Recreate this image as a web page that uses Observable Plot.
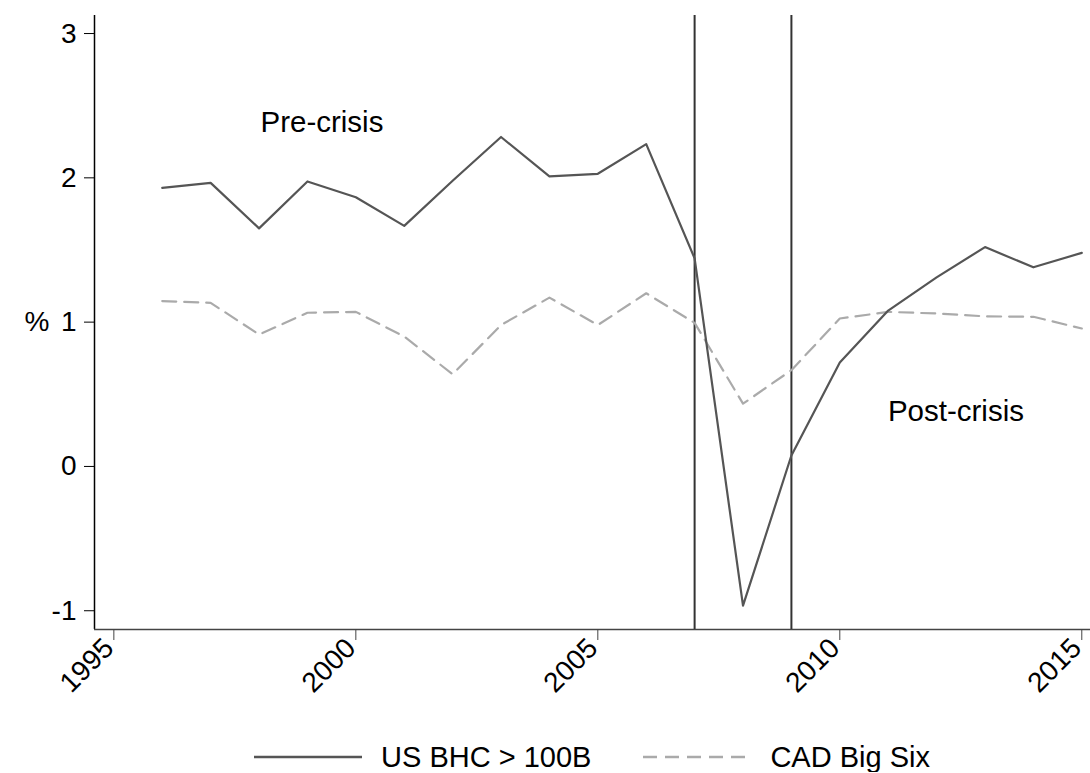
<!DOCTYPE html>
<html><head><meta charset="utf-8">
<script src="https://cdn.jsdelivr.net/npm/d3@7"></script>
<script src="https://cdn.jsdelivr.net/npm/@observablehq/plot@0.6"></script>
<style>
body{margin:0;background:#fff;font-family:"Liberation Sans",Arial,sans-serif;color:#000;}
#legend{display:flex;justify-content:center;align-items:center;padding-top:42px;padding-left:94px;font-size:29px;line-height:30px;}
#legend .item{display:flex;align-items:center;}
#legend svg{margin-right:19px;}
</style>
</head><body><div id="chart"></div>
<div id="legend"></div>
<script>
const years = [1996,1997,1998,1999,2000,2001,2002,2003,2004,2005,2006,2007,2008,2009,2010,2011,2012,2013,2014,2015];
const usBHC = [1.93,1.965,1.65,1.975,1.865,1.667,1.98,2.283,2.01,2.028,2.234,1.442,-0.965,0.076,0.72,1.08,1.31,1.52,1.38,1.48];
const cadBigSix = [1.146,1.134,0.914,1.065,1.071,0.90,0.639,0.98,1.17,0.98,1.20,0.995,0.435,0.667,1.025,1.071,1.06,1.04,1.037,0.956];
const seriesNames = ["US BHC > 100B","CAD Big Six"];
const crisisYears = [2007, 2009];
const annotText = ["Pre-crisis","Post-crisis"];
const annotX = [1999.3, 2012.4];
const annotY = [2.38, 0.38];
const xTicks = [1995,2000,2005,2010,2015];
const yTicks = [-1,0,1,2,3];
const xDomain = [1994.6, 2015.18];
const yDomain = [-1.13, 3.125];

const usData = years.map((y,i)=>({year:y, value:usBHC[i]}));
const cadData = years.map((y,i)=>({year:y, value:cadBigSix[i]}));
const annots = annotText.map((t,i)=>({text:t, x:annotX[i], y:annotY[i]}));
const fmt = d => (d < 0 ? "-" + Math.abs(d) : String(d));

const chart = Plot.plot({
  width:1090, height:700,
  marginLeft:94, marginRight:0, marginTop:15, marginBottom:71,
  style:{fontFamily:'"Liberation Sans",Arial,sans-serif', fontSize:"28px", color:"#000", background:"#fff"},
  x:{domain:xDomain},
  y:{domain:yDomain},
  marks:[
    Plot.ruleX([xDomain[0]], {stroke:"#000", strokeWidth:1.5}),
    Plot.ruleY([yDomain[0]], {stroke:"#444", strokeWidth:1.5}),
    Plot.axisX({ticks:xTicks, tickSize:11, tickFormat:()=>"", label:null, stroke:"#444"}),
    Plot.axisX({ticks:xTicks, tickSize:0, tickPadding:14, dx:-5, tickRotate:-45, tickFormat:fmt, label:null}),
    Plot.axisY({ticks:yTicks, tickSize:10, tickPadding:8, tickFormat:fmt, label:null}),
    Plot.text(["%"], {frameAnchor:"left", dx:-70, fontSize:28}),
    Plot.ruleX(crisisYears, {stroke:"#333", strokeWidth:2}),
    Plot.line(cadData, {x:"year", y:"value", stroke:"#aaa", strokeWidth:2.2, strokeDasharray:"14,8"}),
    Plot.line(usData, {x:"year", y:"value", stroke:"#555", strokeWidth:2.2}),
    Plot.text(annots, {x:"x", y:"y", text:"text", fontSize:29.5})
  ]
});
document.getElementById("chart").appendChild(chart);

const legend = document.getElementById("legend");
const styles = [{stroke:"#555", dash:""},{stroke:"#aaa", dash:"14,8"}];
seriesNames.forEach((name,i)=>{
  const item = document.createElement("div");
  item.className="item";
  if(i>0) item.style.marginLeft="52px";
  item.innerHTML = `<svg width="108" height="10"><line x1="0" x2="108" y1="5" y2="5" stroke="${styles[i].stroke}" stroke-width="2.5" ${styles[i].dash?`stroke-dasharray="${styles[i].dash}"`:""}/></svg><span>${name}</span>`;
  legend.appendChild(item);
});
</script>
</body></html>
